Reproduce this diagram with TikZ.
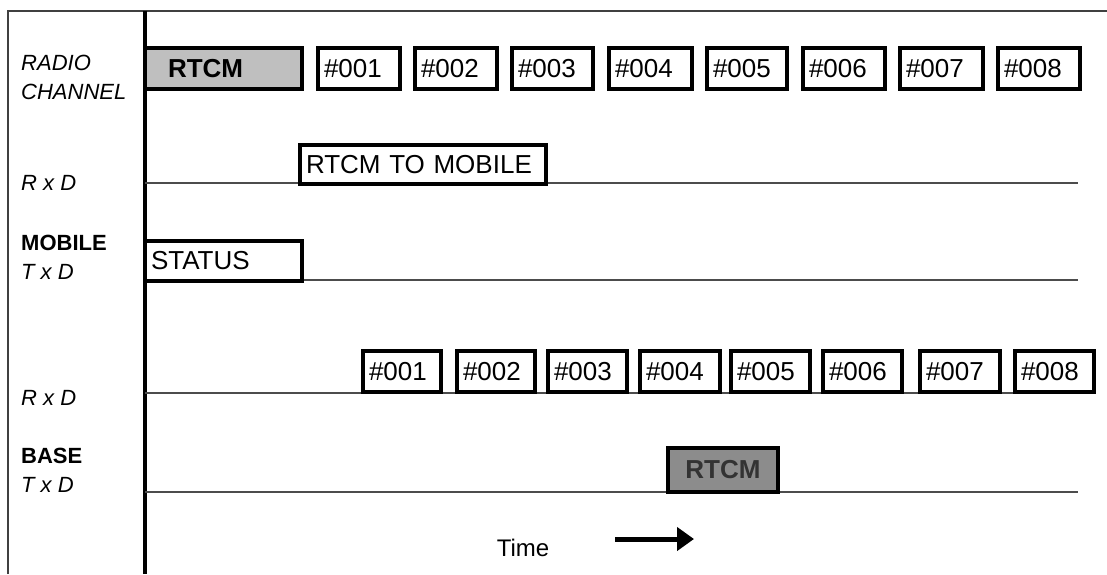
\documentclass[tikz,border=0pt]{standalone}
\usepackage{fontspec}
\setmainfont{Liberation Sans}
\usetikzlibrary{arrows.meta}
\newcommand{\pktbox}[7]{%
  \pgfmathsetmacro{\pktTW}{#4-12}%
  \node[pkt,#6,anchor=north west,text width=\pktTW pt,minimum height=#5 pt] (#1) at (#2,#3) {#7};}
\begin{document}
\begin{tikzpicture}[x=1pt,y=-1pt,
  frame/.style={line width=1.3pt, black!75},
  axisline/.style={line width=3.4pt, black},
  tline/.style={line width=1.6pt, black!70},
  pkt/.style={draw, fill=white, line width=3.4pt, rectangle, inner xsep=6pt, inner ysep=0pt,
    outer sep=0pt, align=left, font=\fontsize{26}{30}\selectfont},
  greypkt/.style={fill=black!25, font=\fontsize{26}{30}\selectfont\bfseries},
  darkpkt/.style={fill=black!45, align=center, text=black!80, font=\fontsize{26}{30}\selectfont\bfseries},
  lbl/.style={font=\fontsize{22}{26}\selectfont\itshape, anchor=west, inner sep=0pt},
  blbl/.style={font=\fontsize{22}{26}\selectfont\bfseries, anchor=west, inner sep=0pt},
  timelbl/.style={font=\fontsize{24}{28}\selectfont, inner sep=0pt},
  timearrow/.style={line width=5pt, -{Triangle[length=17pt,width=23pt]}},
]
\useasboundingbox (0,0) rectangle (1107,574);
% frame
\coordinate (ftl) at (8,11);
\coordinate (ftr) at (1107,11);
\coordinate (fbl) at (8,574);
\draw[frame] (fbl) -- (ftl) -- (ftr);
\coordinate (atop) at (145,11);
\coordinate (abot) at (145,574);
\draw[axisline] (atop) -- (abot);
% time lines
\coordinate (m1a) at (145,183); \coordinate (m1b) at (1078,183);
\coordinate (m2a) at (145,280); \coordinate (m2b) at (1078,280);
\coordinate (b1a) at (145,393); \coordinate (b1b) at (1078,393);
\coordinate (b2a) at (145,492); \coordinate (b2b) at (1078,492);
\draw[tline] (m1a) -- (m1b);
\draw[tline] (m2a) -- (m2b);
\draw[tline] (b1a) -- (b1b);
\draw[tline] (b2a) -- (b2b);
% labels
\node[lbl] (lradio) at (21,63) {RADIO};
\node[lbl] (lchannel) at (21,92) {CHANNEL};
\node[lbl] (lmrx) at (21,183) {R x D};
\node[blbl] (lmobile) at (21,243) {MOBILE};
\node[lbl] (lmtx) at (21,272) {T x D};
\node[lbl] (lbrx) at (21,398) {R x D};
\node[blbl] (lbase) at (21,456) {BASE};
\node[lbl] (lbtx) at (21,485) {T x D};
% radio channel
\pktbox{rtcm}{145}{48}{157}{41}{greypkt}{\hspace*{17pt}RTCM}
\pktbox{r1}{318}{48}{82}{41}{}{\#001}
\pktbox{r2}{415}{48}{82}{41}{}{\#002}
\pktbox{r3}{512}{48}{81}{41}{}{\#003}
\pktbox{r4}{609}{48}{83}{41}{}{\#004}
\pktbox{r5}{707}{48}{80}{41}{}{\#005}
\pktbox{r6}{803}{48}{82}{41}{}{\#006}
\pktbox{r7}{900}{48}{83}{41}{}{\#007}
\pktbox{r8}{998}{48}{82}{41}{}{\#008}
% mobile
\pktbox{rtm}{300}{145}{246}{39}{}{RTCM TO MOBILE}
\pktbox{status}{145}{241}{157}{40}{}{STATUS}
% base
\pktbox{b1}{363}{351}{78}{41}{}{\#001}
\pktbox{b2}{457}{351}{78}{41}{}{\#002}
\pktbox{b3}{548}{351}{79}{41}{}{\#003}
\pktbox{b4}{640}{351}{80}{41}{}{\#004}
\pktbox{b5}{731}{351}{79}{41}{}{\#005}
\pktbox{b6}{823}{351}{79}{41}{}{\#006}
\pktbox{b7}{920}{351}{80}{41}{}{\#007}
\pktbox{b8}{1015}{351}{79}{41}{}{\#008}
\pktbox{brtcm}{668}{448}{110}{44}{darkpkt}{RTCM}
% time
\node[timelbl] (time) at (523,548) {Time};
\coordinate (ta) at (615,539);
\coordinate (tb) at (694,539);
\draw[timearrow] (ta) -- (tb);
\end{tikzpicture}
\end{document}
